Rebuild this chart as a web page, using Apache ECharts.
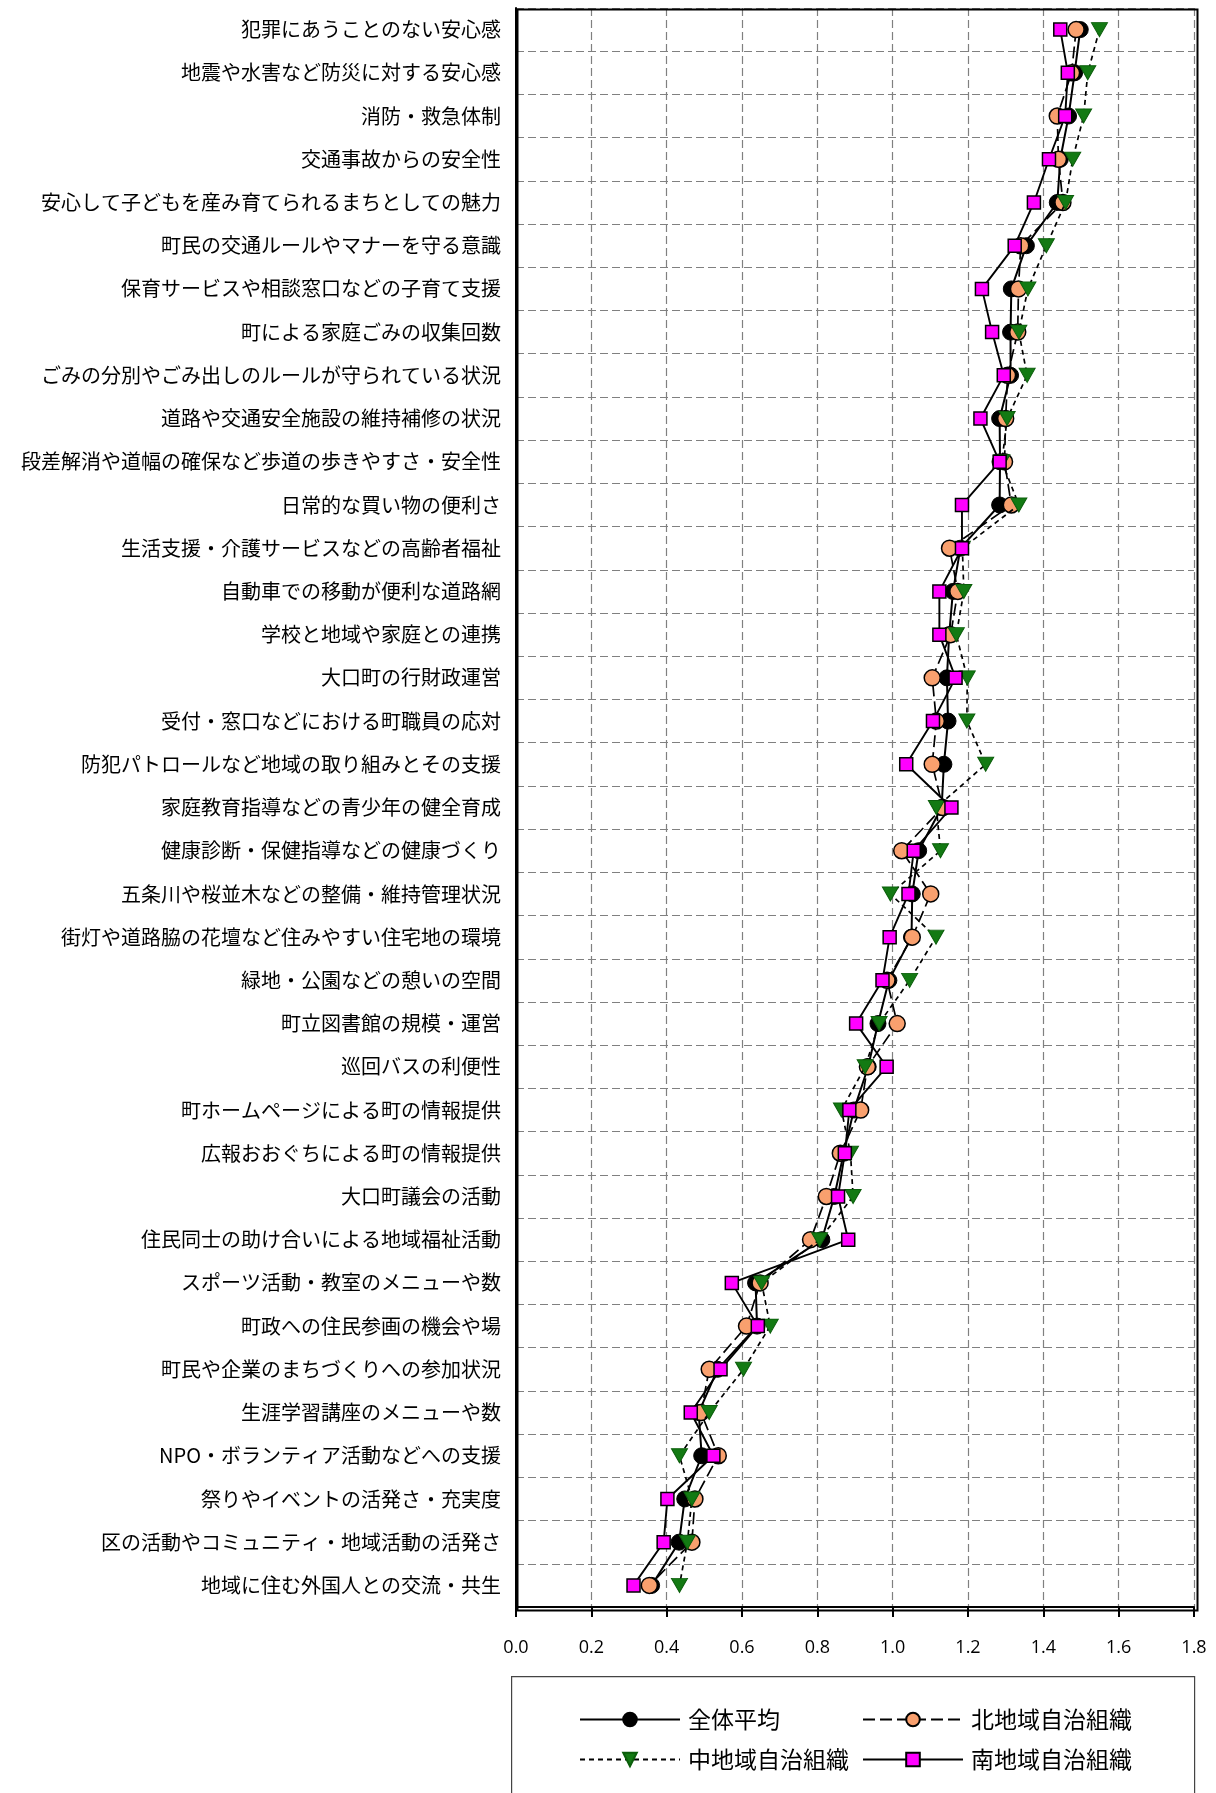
<!DOCTYPE html>
<html>
<head>
<meta charset="utf-8">
<script src="https://cdn.jsdelivr.net/npm/echarts@6/dist/echarts.min.js"></script>
<style>
html,body{margin:0;padding:0;background:#fff;}
#c{width:1216px;height:1793px;}
</style>
</head>
<body>
<div id="c"></div>
<script>
const categories = [
  "犯罪にあうことのない安心感",
  "地震や水害など防災に対する安心感",
  "消防・救急体制",
  "交通事故からの安全性",
  "安心して子どもを産み育てられるまちとしての魅力",
  "町民の交通ルールやマナーを守る意識",
  "保育サービスや相談窓口などの子育て支援",
  "町による家庭ごみの収集回数",
  "ごみの分別やごみ出しのルールが守られている状況",
  "道路や交通安全施設の維持補修の状況",
  "段差解消や道幅の確保など歩道の歩きやすさ・安全性",
  "日常的な買い物の便利さ",
  "生活支援・介護サービスなどの高齢者福祉",
  "自動車での移動が便利な道路網",
  "学校と地域や家庭との連携",
  "大口町の行財政運営",
  "受付・窓口などにおける町職員の応対",
  "防犯パトロールなど地域の取り組みとその支援",
  "家庭教育指導などの青少年の健全育成",
  "健康診断・保健指導などの健康づくり",
  "五条川や桜並木などの整備・維持管理状況",
  "街灯や道路脇の花壇など住みやすい住宅地の環境",
  "緑地・公園などの憩いの空間",
  "町立図書館の規模・運営",
  "巡回バスの利便性",
  "町ホームページによる町の情報提供",
  "広報おおぐちによる町の情報提供",
  "大口町議会の活動",
  "住民同士の助け合いによる地域福祉活動",
  "スポーツ活動・教室のメニューや数",
  "町政への住民参画の機会や場",
  "町民や企業のまちづくりへの参加状況",
  "生涯学習講座のメニューや数",
  "NPO・ボランティア活動などへの支援",
  "祭りやイベントの活発さ・充実度",
  "区の活動やコミュニティ・地域活動の活発さ",
  "地域に住む外国人との交流・共生"
];

const seriesNames = ["全体平均", "北地域自治組織", "中地域自治組織", "南地域自治組織"];

const overall = [1.498,1.483,1.467,1.445,1.437,1.355,1.315,1.313,1.313,1.284,1.285,1.284,1.180,1.160,1.150,1.144,1.147,1.136,1.130,1.069,1.052,1.050,0.990,0.961,0.935,0.897,0.870,0.845,0.812,0.636,0.640,0.535,0.485,0.493,0.448,0.433,0.360];
const north   = [1.487,1.475,1.437,1.440,1.452,1.340,1.334,1.332,1.305,1.300,1.297,1.315,1.151,1.173,1.154,1.105,1.116,1.105,1.133,1.024,1.101,1.052,0.985,1.012,0.933,0.915,0.861,0.824,0.782,0.648,0.612,0.513,0.491,0.537,0.475,0.467,0.354];
const middle  = [1.549,1.518,1.507,1.478,1.459,1.408,1.359,1.335,1.357,1.304,1.290,1.335,1.185,1.189,1.169,1.198,1.197,1.247,1.116,1.127,0.994,1.115,1.045,0.964,0.927,0.864,0.888,0.895,0.806,0.652,0.675,0.604,0.513,0.434,0.467,0.455,0.434];
const south   = [1.445,1.465,1.458,1.415,1.375,1.324,1.237,1.264,1.295,1.233,1.284,1.184,1.184,1.124,1.124,1.167,1.107,1.036,1.156,1.056,1.042,0.992,0.973,0.903,0.984,0.885,0.873,0.855,0.882,0.573,0.642,0.543,0.464,0.524,0.402,0.392,0.312];

const xTicks = { min: 0, max: 1.8, interval: 0.2 };

const jp = '"Noto Sans CJK JP", "Noto Sans", sans-serif';
const chart = echarts.init(document.getElementById('c'), null, { renderer: 'canvas' });

function legendAt(name, left, top) {
  return {
    data: [name], left: left, top: top, padding: 0, itemWidth: 100, itemHeight: 17, itemGap: 0,
    textStyle: { fontFamily: jp, fontSize: 23, color: '#000', padding: [0, 0, 0, 3] },
    selectedMode: false
  };
}

chart.setOption({
  animation: false,
  backgroundColor: '#fff',
  grid: { left: 516, right: 22, top: 8, bottom: 186, show: false, containLabel: false },
  xAxis: {
    type: 'value', min: xTicks.min, max: xTicks.max, interval: xTicks.interval,
    axisLine: { show: true, lineStyle: { color: '#000', width: 2 } },
    axisTick: { show: true, inside: false, length: 10, lineStyle: { color: '#000', width: 2 } },
    axisLabel: { margin: 32, color: '#000', fontSize: 18, fontFamily: '"Open Sans", sans-serif', formatter: v => v.toFixed(1) },
    splitLine: { show: true, lineStyle: { color: '#808080', type: [8, 4], width: 1.2 } }
  },
  yAxis: {
    type: 'category', data: categories, inverse: true, boundaryGap: true,
    axisLine: { show: true, lineStyle: { color: '#000', width: 2 } },
    axisTick: { show: false },
    axisLabel: { margin: 15, color: '#000', fontSize: 20, fontFamily: jp, interval: 0 },
    splitLine: { show: true, interval: 0, lineStyle: { color: '#808080', type: [8, 4], width: 1.2 } }
  },
  legend: [
    legendAt(seriesNames[0], 579, 1708),
    legendAt(seriesNames[1], 862, 1708),
    legendAt(seriesNames[2], 579, 1748),
    legendAt(seriesNames[3], 862, 1748)
  ],
  graphic: [
    {
      type: 'rect', left: 511, top: 1676, z: -1, silent: true,
      shape: { width: 683, height: 140 },
      style: { fill: '#fff', stroke: '#444', lineWidth: 1.2 }
    },
    {
      type: 'rect', left: 515, top: 7, z: 100, silent: true,
      shape: { width: 680, height: 1601 },
      style: { fill: 'none', stroke: '#000', lineWidth: 2 }
    }
  ],
  series: [
    {
      name: seriesNames[0], type: 'line', data: overall, z: 2,
      symbol: 'circle', symbolSize: 16,
      lineStyle: { color: '#000', width: 2, type: 'solid' },
      itemStyle: { color: '#000', borderColor: '#000', borderWidth: 1 }
    },
    {
      name: seriesNames[1], type: 'line', data: north, z: 3,
      symbol: 'circle', symbolSize: 16,
      lineStyle: { color: '#000', width: 1.7, type: [12, 5] },
      itemStyle: { color: '#F9A06E', borderColor: '#000', borderWidth: 1.5 }
    },
    {
      name: seriesNames[2], type: 'line', data: middle, z: 4,
      symbol: 'triangle', symbolRotate: 180, symbolSize: [16, 14],
      lineStyle: { color: '#000', width: 1.7, type: [5, 4] },
      itemStyle: { color: '#137A13', borderColor: '#0b5e0b', borderWidth: 1 }
    },
    {
      name: seriesNames[3], type: 'line', data: south, z: 5,
      symbol: 'rect', symbolSize: 13,
      lineStyle: { color: '#000', width: 1.9, type: 'solid' },
      itemStyle: { color: '#FF00FF', borderColor: '#000', borderWidth: 1.5 }
    }
  ]
});
</script>
</body>
</html>
